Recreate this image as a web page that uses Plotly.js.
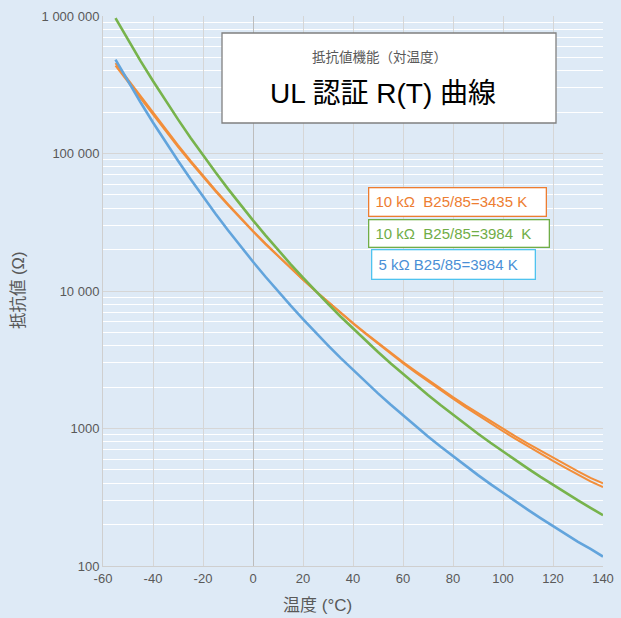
<!DOCTYPE html>
<html>
<head>
<meta charset="utf-8">
<script src="https://cdn.plot.ly/plotly-3.0.1.min.js"></script>
<style>
  html, body { margin: 0; padding: 0; background: #deeaf6; }
  #chart { width: 621px; height: 618px; }
</style>
</head>
<body>
<div id="chart"></div>
<script>
// Temperature (°C)
const temps = [-55,-50,-45,-40,-35,-30,-25,-20,-15,-10,-5,0,5,10,15,20,25,30,35,40,45,50,55,60,65,70,75,80,85,90,95,100,105,110,115,120,125,130,135,140];

// 10 kΩ B25/85=3984 K (green)
const r10k3984 = [963800,670200,472000,336500,242700,177000,130400,97080,72960,55330,42330,32650,25390,19900,15710,12490,10000,8056,6530,5325,4367,3601,2985,2487,2082,1751,1480,1256,1070,916,787,679,588,511,445,389,341,300,265,234];

// 5 kΩ B25/85=3984 K (blue)
const r5k3984 = [481900,335100,236000,168200,121300,88490,65210,48540,36480,27660,21160,16330,12700,9951,7856,6247,5000,4028,3265,2663,2184,1801,1493,1244,1041,876,740,628,535,458,394,340,294,256,223,195,171,150,133,117];

// 10 kΩ B25/85=3435 K (orange, upper / lower tolerance lines)
const r10k3435Hi = [453900,344300,261500,198800,150400,114900,88650,69010,54190,42880,34140,27390,22130,18000,14710,12100,10000,8326,6966,5857,4943,4188,3563,3041,2613,2254,1950,1693,1475,1290,1130,993,876,775,688,611,545,487,437,399];
const r10k3435Lo = [436100,331700,252500,192500,145950,111800,86470,67470,53110,42140,33640,27050,21910,17860,14630,12070,10000,8304,6930,5811,4891,4134,3507,2987,2559,2202,1900,1645,1429,1246,1090,955,840,741,656,581,517,461,413,375];

// Axis tick labels
const xTickVals = [-60,-40,-20,0,20,40,60,80,100,120,140];
const xTickText = ["-60","-40","-20","0","20","40","60","80","100","120","140"];
const yTickVals = [100,1000,10000,100000,1000000];
const yTickText = ["100","1000","10 000","100 000","1 000 000"];

// Texts
const titleSmall = "抵抗値機能（対温度）";
const titleBig = "UL 認証 R(T) 曲線";
const xTitle = "温度 (°C)";
const yTitle = "抵抗値 (Ω)";
const labels = ["\u00a010 kΩ\u00a0\u00a0B25/85=3435 K", "\u00a010 kΩ\u00a0\u00a0B25/85=3984\u00a0\u00a0K", "\u00a05 kΩ B25/85=3984 K"];

const FONT = "Liberation Sans, Arial, 'Noto Sans CJK JP', sans-serif";
const ORANGE = "#f28e3a", GREEN = "#77b34c", BLUE = "#62a4dc";

const traces = [
  {x: temps, y: r10k3435Hi, mode: "lines", line: {color: ORANGE, width: 2}},
  {x: temps, y: r10k3435Lo, mode: "lines", line: {color: ORANGE, width: 2}},
  {x: temps, y: r10k3984, mode: "lines", line: {color: GREEN, width: 2.6}},
  {x: temps, y: r5k3984, mode: "lines", line: {color: BLUE, width: 2.6}}
];

const L = 103, R = 18, T = 16, B = 52, W = 621, H = 618;
const pw = W - L - R, ph = H - T - B;
const px = v => (v - L) / pw;
const py = v => (H - B - v) / ph;

const layout = {
  width: W, height: H,
  margin: {l: L, r: R, t: T, b: B},
  paper_bgcolor: "#deeaf6",
  plot_bgcolor: "#deeaf6",
  showlegend: false,
  font: {family: FONT, color: "#595959", size: 13},
  xaxis: {
    range: [-60, 140], tickvals: xTickVals, ticktext: xTickText, ticks: "",
    showgrid: true, gridcolor: "#d6d6d6", gridwidth: 1,
    zeroline: true, zerolinecolor: "#bdbdbd", zerolinewidth: 1,
    showline: true, linecolor: "#cfcfcf", linewidth: 1,
    tickfont: {size: 13, color: "#595959"}
  },
  yaxis: {
    type: "log", range: [2, 6], tickvals: yTickVals, ticktext: yTickText, ticks: "",
    showgrid: true, gridcolor: "#d6d6d6", gridwidth: 1,
    minor: {dtick: "D1", showgrid: true, gridcolor: "#ffffff", gridwidth: 1, ticks: ""},
    showline: true, linecolor: "#cfcfcf", linewidth: 1,
    zeroline: false,
    tickfont: {size: 13, color: "#595959"}
  },
  shapes: [
    {type: "rect", xref: "paper", yref: "paper", x0: px(222), x1: px(556), y0: py(123), y1: py(33),
     fillcolor: "#ffffff", line: {color: "#808080", width: 1.3}, layer: "above"}
  ],
  annotations: [
    {xref: "paper", yref: "paper", x: px(379), y: py(57), text: titleSmall, showarrow: false,
     font: {size: 13.5, color: "#595959", family: FONT}, xanchor: "center", yanchor: "middle"},
    {xref: "paper", yref: "paper", x: px(383), y: py(93), text: titleBig, showarrow: false,
     font: {size: 28, color: "#000000", family: FONT}, xanchor: "center", yanchor: "middle"},
    {xref: "paper", yref: "paper", x: px(317), y: py(605), text: xTitle, showarrow: false,
     font: {size: 17, color: "#595959", family: FONT}, xanchor: "center", yanchor: "middle"},
    {xref: "paper", yref: "paper", x: px(18), y: py(291), text: yTitle, showarrow: false, textangle: -90,
     font: {size: 16.5, color: "#595959", family: FONT}, xanchor: "center", yanchor: "middle"},
    {xref: "paper", yref: "paper", x: px(368), y: py(201.5), text: labels[0], showarrow: false,
     xanchor: "left", yanchor: "middle", align: "left", width: 172, height: 23,
     bgcolor: "#ffffff", bordercolor: "#ed7d31", borderwidth: 1.3, borderpad: 2,
     font: {size: 15, color: "#ed7d31", family: FONT}},
    {xref: "paper", yref: "paper", x: px(368), y: py(233), text: labels[1], showarrow: false,
     xanchor: "left", yanchor: "middle", align: "left", width: 175, height: 22,
     bgcolor: "#ffffff", bordercolor: "#70ad47", borderwidth: 1.3, borderpad: 2,
     font: {size: 15, color: "#70ad47", family: FONT}},
    {xref: "paper", yref: "paper", x: px(371), y: py(264.5), text: labels[2], showarrow: false,
     xanchor: "left", yanchor: "middle", align: "left", width: 158, height: 24,
     bgcolor: "#ffffff", bordercolor: "#4fc3ef", borderwidth: 1.3, borderpad: 2,
     font: {size: 15, color: "#4a8fd6", family: FONT}}
  ]
};

Plotly.newPlot("chart", traces, layout, {displayModeBar: false, staticPlot: true});
</script>
</body>
</html>
